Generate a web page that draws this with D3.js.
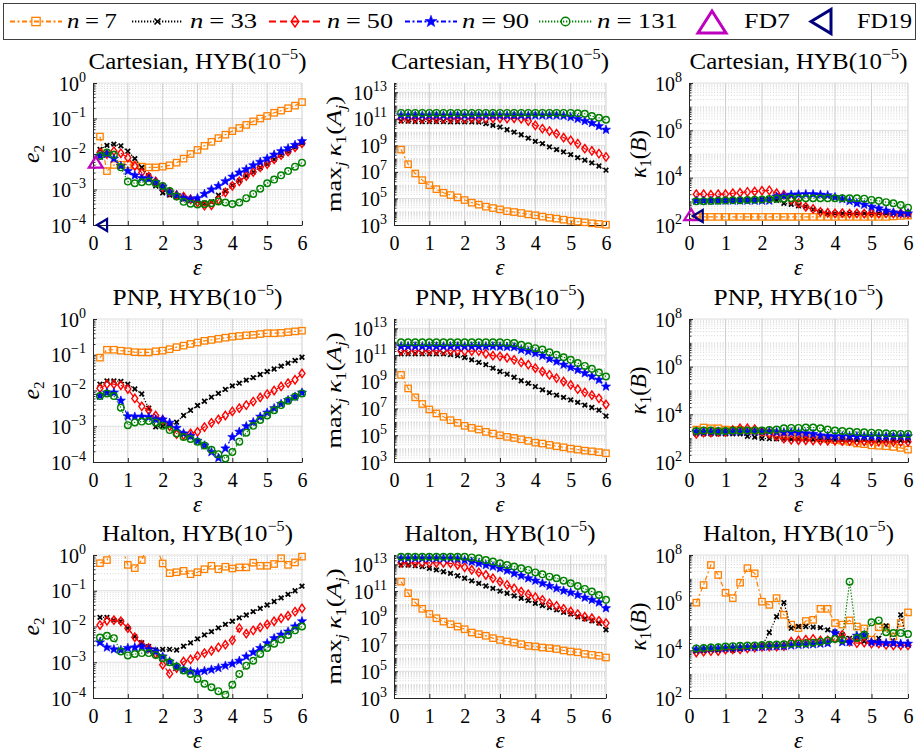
<!DOCTYPE html>
<html><head><meta charset="utf-8">
<script src="https://cdn.jsdelivr.net/npm/d3@7"></script>
<style>
body{margin:0;background:#fff}
text{font-family:"Liberation Serif","Times New Roman",serif;fill:#000}
</style>
</head><body>
<svg id="c" width="919" height="752"></svg>
<script>
// ---------------- data ----------------
const eps = [0.2,0.4,0.6,0.8,1.0,1.2,1.4,1.6,1.8,2.0,2.2,2.4,2.6,2.8,3.0,3.2,3.4,3.6,3.8,4.0,4.2,4.4,4.6,4.8,5.0,5.2,5.4,5.6,5.8,6.0];
const nValues = [7,33,50,90,131];
const xTicks = [0,1,2,3,4,5,6];
const yTicksE2 = [1e-4,1e-3,1e-2,1e-1,1];
const yTicksKA = [1e3,1e5,1e7,1e9,1e11,1e13];
const yTicksKB = [1e2,1e4,1e6,1e8];
const rowNames = ["Cartesian","PNP","Halton"];

// Cartesian
const cartE2_n7  = [3.1e-2,3.3e-3,4.9e-3,5e-3,5e-3,4.8e-3,4.4e-3,4.2e-3,4.2e-3,4.4e-3,4.8e-3,5.7e-3,7.4e-3,1e-2,1.3e-2,1.7e-2,2.2e-2,2.8e-2,3.5e-2,4.4e-2,5.4e-2,6.6e-2,8.3e-2,0.1,0.118,0.145,0.167,0.195,0.23,0.29];
const cartE2_n33 = [1.35e-2,1.75e-2,1.9e-2,1.7e-2,1.2e-2,7.4e-3,4.2e-3,2.4e-3,1.26e-3,8e-4,6.9e-4,6.3e-4,5.7e-4,5.3e-4,4.6e-4,4.1e-4,4.5e-4,6.9e-4,9e-4,1.3e-3,1.75e-3,2.4e-3,3.1e-3,4.1e-3,5.2e-3,7e-3,9.2e-3,1.15e-2,1.55e-2,2e-2];
const cartE2_n50 = [1.1e-2,1e-2,1.2e-2,1.05e-2,7.9e-3,4.6e-3,3e-3,2.3e-3,1.7e-3,1.15e-3,8.5e-4,6.9e-4,6.3e-4,5.3e-4,4.3e-4,3.5e-4,3.6e-4,5.1e-4,8.3e-4,1.26e-3,1.7e-3,2.4e-3,3.1e-3,4.2e-3,5.2e-3,7.1e-3,9.3e-3,1.16e-2,1.55e-2,2e-2];
const cartE2_n90 = [8.8e-3,1e-2,7.4e-3,4.6e-3,3.3e-3,2.5e-3,2.1e-3,2e-3,1.6e-3,1.2e-3,8.3e-4,6.9e-4,5.7e-4,5.3e-4,5.7e-4,7.5e-4,1e-3,1.26e-3,1.7e-3,2.3e-3,3e-3,3.7e-3,4.8e-3,6e-3,7.4e-3,9.6e-3,1.2e-2,1.45e-2,1.8e-2,2.3e-2];
const cartE2_n131= [8.8e-3,1.1e-2,9.5e-3,4.2e-3,1.67e-3,1.5e-3,1.6e-3,1.67e-3,1.5e-3,1.26e-3,9e-4,6.3e-4,4.5e-4,4e-4,3.8e-4,3.9e-4,4.1e-4,4.6e-4,4.3e-4,3.9e-4,4.3e-4,5.7e-4,7.5e-4,1.05e-3,1.5e-3,1.9e-3,2.5e-3,3.3e-3,4.4e-3,5.7e-3];

const cartKA_n7  = [4.8e8,3.8e7,7.6e6,2.4e6,1e6,5e5,2.7e5,1.8e5,1.2e5,7.6e4,4.8e4,3.4e4,2.4e4,1.9e4,1.5e4,1.1e4,9.5e3,8e3,6.3e3,5.4e3,4.3e3,3.5e3,3e3,2.5e3,2.1e3,1.8e3,1.6e3,1.35e3,1.2e3,1.05e3];
const cartKA_n33 = [6.8e10,6.6e10,6.3e10,6.3e10,6.3e10,6.3e10,6.3e10,6e10,6e10,5.9e10,5.8e10,5.6e10,4.3e10,3.2e10,2.4e10,1.5e10,1e10,6.3e9,3.5e9,2e9,1.35e9,7.6e8,4.8e8,3.2e8,2e8,1.2e8,7.6e7,4.8e7,2.8e7,1.35e7];
const cartKA_n50 = [1.05e11,1e11,1.05e11,1e11,1.05e11,1e11,1.05e11,1e11,1.05e11,1e11,1.05e11,1e11,1.05e11,1.1e11,1.1e11,1.05e11,1.1e11,1e11,6.8e10,3.2e10,1.8e10,1.2e10,7.6e9,3.8e9,2.4e9,1.35e9,5.6e8,3.8e8,2.4e8,1.35e8];
const cartKA_n90 = [1.8e11,1.8e11,1.8e11,1.8e11,1.8e11,1.8e11,1.8e11,1.8e11,1.8e11,1.8e11,1.8e11,1.8e11,1.8e11,1.8e11,1.8e11,1.8e11,1.8e11,1.8e11,1.8e11,1.8e11,1.8e11,1.8e11,1.8e11,1.7e11,1.35e11,1e11,6.8e10,4.8e10,2.8e10,1.5e10];
const cartKA_n131= [2.8e11,2.8e11,2.8e11,2.8e11,2.8e11,2.8e11,2.8e11,2.8e11,2.8e11,2.8e11,2.8e11,2.8e11,2.8e11,2.8e11,2.8e11,2.8e11,2.8e11,2.8e11,2.8e11,2.8e11,2.8e11,2.8e11,2.8e11,2.8e11,2.8e11,2.6e11,2.4e11,1.6e11,1.2e11,8.5e10];

const cartKB_n7  = [2.2e2,2.2e2,2.2e2,2.2e2,2.2e2,2.2e2,2.2e2,2.2e2,2.2e2,2.2e2,2.2e2,2.2e2,2.2e2,2.2e2,2.2e2,2.2e2,2.2e2,2.2e2,2.2e2,2.2e2,2.2e2,2.2e2,2.2e2,2.2e2,2.2e2,2.2e2,2.2e2,2.3e2,2.4e2,2.5e2];
const cartKB_n33 = [1.05e3,1.05e3,1.08e3,1.1e3,1.1e3,1.12e3,1.12e3,1.15e3,1.15e3,1.18e3,1.2e3,1.1e3,8.3e2,7.5e2,6.5e2,5.9e2,4.6e2,3.7e2,3.1e2,3.1e2,3.1e2,3.1e2,3.1e2,3.1e2,3.1e2,3.1e2,3.1e2,3.1e2,3.1e2,3.1e2];
const cartKB_n50 = [2e3,2e3,1.9e3,2e3,2e3,2.2e3,2.3e3,2.5e3,2.6e3,2.8e3,2.9e3,2.2e3,1.9e3,1.15e3,8.3e2,5.9e2,4.8e2,3.6e2,3.3e2,3.1e2,3.2e2,3e2,3.1e2,3e2,3.2e2,3e2,3.1e2,3e2,3.1e2,3e2];
const cartKB_n90 = [1.07e3,1.07e3,1.07e3,1.07e3,1.07e3,1.07e3,1.07e3,1.07e3,1.07e3,1.07e3,1.07e3,1.6e3,1.7e3,1.9e3,1.95e3,2e3,2e3,1.9e3,1.8e3,1.5e3,1.25e3,1.03e3,8.3e2,7.2e2,5.9e2,5e2,4e2,3.4e2,3.1e2,3.1e2];
const cartKB_n131= [1e3,1.02e3,1.04e3,1.06e3,1.08e3,1.1e3,1.12e3,1.14e3,1.16e3,1.2e3,1.25e3,1.28e3,1.3e3,1.35e3,1.35e3,1.35e3,1.35e3,1.35e3,1.35e3,1.35e3,1.35e3,1.35e3,1.35e3,1.3e3,1.15e3,1.05e3,9.2e2,8.3e2,7e2,5.4e2];

// PNP
const pnpE2_n7  = [8.3e-2,0.138,0.138,0.13,0.125,0.118,0.116,0.116,0.125,0.13,0.143,0.163,0.18,0.2,0.22,0.245,0.26,0.28,0.3,0.32,0.335,0.35,0.36,0.38,0.4,0.4,0.41,0.43,0.45,0.47];
const pnpE2_n33 = [1.5e-2,1.85e-2,1.85e-2,1.8e-2,1.5e-2,1.1e-2,8e-3,3.2e-3,9.6e-4,1e-3,1.1e-3,1.3e-3,2e-3,2.8e-3,3.8e-3,5e-3,6.5e-3,8.3e-3,1.07e-2,1.35e-2,1.6e-2,1.95e-2,2.3e-2,2.8e-2,3.4e-2,4e-2,4.8e-2,5.8e-2,6.9e-2,8.5e-2];
const pnpE2_n50 = [1.15e-2,1.5e-2,1.5e-2,1.4e-2,1.1e-2,6e-3,3.6e-3,2.8e-3,2e-3,1.5e-3,1e-3,6e-4,5.7e-4,6.3e-4,7e-4,9.5e-4,1.25e-3,1.55e-3,2e-3,2.6e-3,3.2e-3,3.9e-3,4.9e-3,6.4e-3,7.9e-3,1e-2,1.3e-2,1.6e-2,2e-2,3e-2];
const pnpE2_n90 = [7.1e-3,8.7e-3,8.7e-3,5.2e-3,1.9e-3,1.85e-3,1.85e-3,1.8e-3,1.55e-3,1.55e-3,1.25e-3,9e-4,6.3e-4,5.3e-4,3.9e-4,2.9e-4,1.9e-4,1.3e-4,2.4e-4,5e-4,7e-4,1e-3,1.3e-3,1.85e-3,2.4e-3,3.2e-3,4.2e-3,5.4e-3,6.7e-3,8.7e-3];
const pnpE2_n131= [7e-3,8.3e-3,7e-3,3.3e-3,1.07e-3,1.28e-3,1.35e-3,1.4e-3,1.28e-3,1.03e-3,7.8e-4,6.3e-4,5e-4,4.4e-4,3.7e-4,2.9e-4,2.2e-4,1.65e-4,1.25e-4,1.9e-4,3.7e-4,6.6e-4,1.03e-3,1.5e-3,2e-3,2.8e-3,3.9e-3,5.2e-3,6.7e-3,8.3e-3];

const pnpKA_n7  = [3.3e9,3.2e8,6.9e7,2.2e7,8.5e6,4.3e6,2.4e6,1.35e6,8.5e5,5.1e5,3.6e5,2.7e5,1.8e5,1.35e5,1e5,7.6e4,6.3e4,5e4,3.8e4,2.8e4,2.4e4,1.9e4,1.5e4,1.26e4,1e4,8.5e3,7.1e3,6.3e3,5.4e3,4.5e3];
const pnpKA_n33 = [1.26e11,1.26e11,1.26e11,1.26e11,1.26e11,1.26e11,1.26e11,1.1e11,9e10,6.6e10,4.4e10,2.8e10,1.9e10,1.05e10,5.9e9,3.7e9,2.2e9,1.2e9,7.8e8,4.4e8,2.5e8,1.55e8,1e8,6.9e7,4.4e7,2.9e7,1.8e7,1.2e7,7.6e6,2.7e6];
const pnpKA_n50 = [2.1e11,2.1e11,2.1e11,2.1e11,2.1e11,2.1e11,2.1e11,2.1e11,2.1e11,2e11,2e11,2e11,1.26e11,9e10,8e10,6.3e10,4.4e10,2.8e10,1.9e10,1.05e10,5.9e9,3.3e9,1.9e9,1.05e9,5.8e8,2.8e8,1.6e8,1e8,5.8e7,2e7];
const pnpKA_n90 = [4.5e11,4.5e11,4.5e11,4.5e11,4.5e11,4.5e11,4.5e11,4.5e11,4.5e11,4.5e11,4.5e11,4.5e11,4.5e11,4.5e11,4.3e11,4.1e11,3.9e11,2.5e11,1.9e11,1.4e11,8.9e10,5.2e10,3.3e10,1.9e10,1.2e10,7.8e9,4.4e9,2.5e9,1.4e9,4.4e8];
const pnpKA_n131= [9e11,9e11,9e11,9e11,9e11,9e11,9e11,9e11,9e11,9e11,9e11,9e11,9e11,9e11,9e11,8.5e11,8e11,5.9e11,4.5e11,3.3e11,2.6e11,1.6e11,1.05e11,6.9e10,4.4e10,2.5e10,1.55e10,9.3e9,4.9e9,2.5e9];

const pnpKB_n7  = [2.3e3,2.8e3,2.6e3,2.6e3,2.3e3,2.2e3,2.2e3,2e3,2e3,1.9e3,1.7e3,1.4e3,1.35e3,1.26e3,1.2e3,1.15e3,1.07e3,9.8e2,9.1e2,8.3e2,7.8e2,7e2,6e2,5.6e2,5e2,4.8e2,4.6e2,4.3e2,3.9e2,3.3e2];
const pnpKB_n33 = [1.5e3,1.5e3,1.5e3,1.5e3,1.5e3,1.5e3,1.5e3,1.2e3,1.1e3,9.8e2,9.5e2,9.3e2,9.2e2,9e2,9e2,8.8e2,8.7e2,8.6e2,8.5e2,8.4e2,8.3e2,8.3e2,8.2e2,8.2e2,8.1e2,8e2,8e2,8e2,7.9e2,7.9e2];
const pnpKB_n50 = [1.5e3,1.7e3,1.7e3,1.8e3,1.8e3,2.2e3,2.6e3,2.6e3,2.4e3,1.8e3,1.5e3,1.2e3,9.5e2,8.5e2,8.2e2,8.2e2,8e2,8e2,7.8e2,7.8e2,7.5e2,7.5e2,7.3e2,7.3e2,7.2e2,7.2e2,7e2,7e2,7e2,7e2];
const pnpKB_n90 = [1.9e3,1.9e3,1.9e3,1.9e3,1.9e3,1.9e3,1.9e3,1.9e3,1.9e3,1.9e3,1.9e3,1.8e3,1.75e3,1.75e3,1.7e3,1.6e3,1.5e3,1.3e3,1.25e3,1.2e3,1.2e3,1.2e3,1.2e3,1.2e3,1.2e3,1.2e3,1.2e3,1.2e3,1.2e3,1.2e3];
const pnpKB_n131= [2e3,2.1e3,2.1e3,2e3,2e3,2.1e3,2.1e3,2.1e3,2.1e3,2.1e3,2.2e3,2.3e3,2.6e3,2.7e3,2.7e3,2.8e3,2.8e3,2.6e3,2.3e3,2.1e3,2e3,1.9e3,1.8e3,1.75e3,1.7e3,1.65e3,1.6e3,1.55e3,1.5e3,1.5e3];

// Halton
const halE2_n7  = [0.59,0.72,1.8,2.0,0.53,0.43,0.72,2.2,1.9,0.58,0.31,0.33,0.36,0.29,0.33,0.4,0.5,0.4,0.47,0.42,0.45,0.45,0.61,0.5,0.5,0.56,0.81,0.53,0.62,0.9];
const halE2_n33 = [1.8e-2,1.8e-2,1.5e-2,1.4e-2,9e-3,5.2e-3,3.5e-3,2.75e-3,2.2e-3,2.3e-3,2.3e-3,2.2e-3,2.8e-3,3.5e-3,4.5e-3,5.8e-3,7.2e-3,9.1e-3,1.15e-2,1.4e-2,1.75e-2,2.1e-2,2.6e-2,3.2e-2,4e-2,5e-2,6.3e-2,7.9e-2,0.1,0.135];
const halE2_n50 = [1.1e-2,1.45e-2,1.5e-2,1.4e-2,9e-3,5e-3,3.1e-3,2.5e-3,1.7e-3,8.5e-4,4.8e-4,6.9e-4,1.05e-3,1.2e-3,1.5e-3,1.8e-3,2.1e-3,2.6e-3,3.1e-3,4.1e-3,9e-3,6.3e-3,7.8e-3,9.5e-3,1.15e-2,1.4e-2,1.7e-2,2e-2,2.6e-2,3.2e-2];
const halE2_n90 = [3.6e-3,2.6e-3,2.3e-3,2.2e-3,2.5e-3,2.6e-3,2.75e-3,2.3e-3,2e-3,1.45e-3,1.05e-3,7.6e-4,6.2e-4,5.6e-4,5.3e-4,5.7e-4,6.2e-4,6.9e-4,8e-4,9.1e-4,1.1e-3,1.45e-3,1.9e-3,2.5e-3,3.4e-3,4.7e-3,5.9e-3,7.2e-3,1e-2,1.4e-2];
const halE2_n131= [4.9e-3,5.5e-3,4.7e-3,2e-3,1.55e-3,1.7e-3,1.8e-3,1.8e-3,1.6e-3,1.3e-3,1e-3,7.6e-4,5.9e-4,4.7e-4,3.4e-4,2.5e-4,2e-4,1.55e-4,1.23e-4,2.35e-4,4.7e-4,8e-4,1.1e-3,1.7e-3,2.5e-3,3.3e-3,4.3e-3,5.8e-3,7.8e-3,1e-2];

const halKA_n7  = [5.1e11,6.9e10,1.4e10,4.7e9,1.95e9,9.3e8,5.2e8,3.3e8,2.2e8,1.4e8,7.9e7,6e7,4.5e7,3e7,2.2e7,1.7e7,1.4e7,1.07e7,7.9e6,7.2e6,6e6,5.4e6,4.6e6,3.6e6,3e6,2.6e6,2e6,1.7e6,1.45e6,1.07e6];
const halKA_n33 = [8.9e12,8.9e12,7.9e12,6.8e12,5e12,3.8e12,2.8e12,2.1e12,1.4e12,9.1e11,5.8e11,3.8e11,2.4e11,1.6e11,1e11,6.9e10,4.4e10,2.9e10,1.95e10,1.2e10,8.3e9,5.9e9,3.9e9,2.6e9,1.9e9,1.2e9,8.3e8,5.9e8,4e8,1.26e8];
const halKA_n50 = [1.3e13,1.3e13,1.3e13,1.3e13,1.3e13,1.3e13,1.3e13,1.2e13,8.9e12,6e12,3.8e12,2.5e12,1.6e12,9.1e11,5.1e11,2.9e11,1.6e11,9.1e10,5.8e10,3.5e10,2.2e10,1.2e10,7.8e9,4.7e9,3e9,1.9e9,1.2e9,9.3e8,5.9e8,4e8];
const halKA_n90 = [2.8e13,2.8e13,2.8e13,2.8e13,2.8e13,2.8e13,2.8e13,2.8e13,2.6e13,2.1e13,1.6e13,1.2e13,8.9e12,6.8e12,5e12,3.4e12,2.1e12,1.4e12,9.1e11,6e11,3.8e11,2.4e11,1.6e11,1.07e11,7.8e10,5.1e10,3.2e10,2.2e10,1.4e10,5.2e9];
const halKA_n131= [3.7e13,3.7e13,3.7e13,3.7e13,3.7e13,3.7e13,3.7e13,3.7e13,3.7e13,3.7e13,3.3e13,2.8e13,2.1e13,1.6e13,1.2e13,8.9e12,6.8e12,5e12,3.8e12,2.5e12,1.8e12,1.2e12,9.1e11,6e11,3.8e11,2.4e11,1.45e11,9.1e10,5.1e10,2.2e10];

const halKB_n7  = [1e6,5.5e6,3.8e7,1.45e7,2.6e6,1.55e6,6.9e6,2.8e7,1.7e7,1.1e6,8.1e5,1.55e6,3.1e5,1.2e5,8.5e4,1.7e5,1.9e5,5.5e5,5.5e5,1.4e5,1.2e5,1.8e5,1e5,8.3e4,2.8e4,9.3e4,9e4,3.8e4,1.4e5,3.9e5];
const halKB_n33 = [9.1e3,9.5e3,1e4,1e4,1.07e4,1e4,1.1e4,1.2e4,1.3e4,1.5e4,5.6e4,2.6e5,1e6,8.5e4,1e5,1e5,9.5e4,9e4,7.2e4,6e4,4.5e4,3.2e4,2.8e4,2.4e4,2.1e4,3.2e4,1.07e5,2e4,3.1e5,1.7e4];
const halKB_n50 = [8.1e3,8.8e3,9.3e3,9.3e3,1.07e4,1.1e4,1.1e4,1.2e4,1.3e4,1.4e4,1.45e4,1.45e4,1.5e4,2.3e4,2.6e4,2.8e4,3e4,2.6e4,2.6e4,3.2e4,4.5e4,2.3e4,2e4,2.1e4,1.9e4,1.9e4,1.7e4,1.6e4,1.6e4,1.6e4];
const halKB_n90 = [1.1e4,1.15e4,1.2e4,1.2e4,1.25e4,1.3e4,1.3e4,1.35e4,1.35e4,1.4e4,1.45e4,1.5e4,1.5e4,1.6e4,1.7e4,1.75e4,1.8e4,1.9e4,2e4,5.3e4,2.2e4,2.2e4,4.1e4,4.4e4,2.2e4,2.1e4,2e4,2e4,1.9e4,1.9e4];
const halKB_n131= [1.2e4,1.25e4,1.3e4,1.35e4,1.45e4,1.5e4,1.55e4,1.6e4,1.6e4,1.66e4,1.7e4,1.75e4,1.8e4,1.9e4,1.95e4,2e4,2.1e4,2.3e4,2.6e4,3e4,2.8e4,7.6e6,3.3e4,4.5e4,1.5e5,1.8e5,5.8e4,5.3e4,5.3e4,4.8e4];

// Finite-difference reference markers (panels: Cartesian e2, Cartesian kappa(B))
const fd7Eps  = [0.08, 0.06];
const fd7Vals = [5.7e-3, 2.6e2];
const fd19Eps = [0.26, 0.24];
const fd19Vals= [1e-4, 2.4e2];

// ---------------- layout / style ----------------
const panelData = [
  [[cartE2_n7,cartE2_n33,cartE2_n50,cartE2_n90,cartE2_n131],[cartKA_n7,cartKA_n33,cartKA_n50,cartKA_n90,cartKA_n131],[cartKB_n7,cartKB_n33,cartKB_n50,cartKB_n90,cartKB_n131]],
  [[pnpE2_n7,pnpE2_n33,pnpE2_n50,pnpE2_n90,pnpE2_n131],[pnpKA_n7,pnpKA_n33,pnpKA_n50,pnpKA_n90,pnpKA_n131],[pnpKB_n7,pnpKB_n33,pnpKB_n50,pnpKB_n90,pnpKB_n131]],
  [[halE2_n7,halE2_n33,halE2_n50,halE2_n90,halE2_n131],[halKA_n7,halKA_n33,halKA_n50,halKA_n90,halKA_n131],[halKB_n7,halKB_n33,halKB_n50,halKB_n90,halKB_n131]]
];
const colX = [[93,302],[394,606],[689,908]];
const rowY = [[83,225],[319,462],[555,698]];
const colDomain = [[1e-4,1],[1e3,5e13],[1e2,1e8]];
const colTicks = [yTicksE2,yTicksKA,yTicksKB];
const titleW = [218,170,191];
const styles = [
  {color:"#FF8000", dash:"5,2.5,2,2.5", marker:"square"},
  {color:"#000000", dash:"1.3,1.7",     marker:"x"},
  {color:"#FF0000", dash:"7,4",         marker:"diamond"},
  {color:"#0000FF", dash:"5,2.5,2,2.5", marker:"star"},
  {color:"#008000", dash:"1.3,1.7",     marker:"circle"}
];
const FD7C = "#BF00BF", FD19C = "#00007F";

const svg = d3.select("#c");
svg.append("rect").attr("width",919).attr("height",752).attr("fill","#fff");

function starPath(R){
  const r = R*0.42; let p = [];
  for(let i=0;i<10;i++){const a=-Math.PI/2+i*Math.PI/5; const rr=i%2?r:R; p.push([rr*Math.cos(a), rr*Math.sin(a)]);}
  return "M"+p.map(q=>q[0].toFixed(2)+","+q[1].toFixed(2)).join("L")+"Z";
}
function drawMarker(g, type, cx, cy, color, s, sw){
  s = s||1;
  const gg = g.append("g").attr("transform",`translate(${cx},${cy})`);
  if(type==="square") gg.append("rect").attr("x",-3.2*s).attr("y",-3.2*s).attr("width",6.4*s).attr("height",6.4*s).attr("fill","none").attr("stroke",color).attr("stroke-width",1.3);
  else if(type==="x"){ const h=2.3*s; gg.append("path").attr("d",`M${-h},${-h}L${h},${h}M${-h},${h}L${h},${-h}`).attr("stroke",color).attr("stroke-width",1.7); }
  else if(type==="diamond") gg.append("path").attr("d",`M0,${-4.2*s}L${3*s},0L0,${4.2*s}L${-3*s},0Z`).attr("fill","none").attr("stroke",color).attr("stroke-width",1.4);
  else if(type==="star") gg.append("path").attr("d",starPath(4.8*s)).attr("fill",color).attr("stroke",color).attr("stroke-width",0.6);
  else if(type==="circle") gg.append("circle").attr("r",3.3*s).attr("fill","none").attr("stroke",color).attr("stroke-width",1.4);
  else if(type==="tri") gg.append("path").attr("d",`M0,${-6*s}L${7*s},${5*s}L${-7*s},${5*s}Z`).attr("fill","none").attr("stroke",color).attr("stroke-width",sw||2.2);
  else if(type==="left") gg.append("path").attr("d",`M${-5*s},0L${5*s},${-6*s}L${5*s},${6*s}Z`).attr("fill","none").attr("stroke",color).attr("stroke-width",sw||2.2);
}
function fitX(sel, target, ax){
  const bb = sel.node().getBBox();
  const sx = target/bb.width;
  sel.attr("transform",`translate(${ax},0) scale(${sx},1) translate(${-ax},0)`);
}

svg.append("defs");
for(let r=0;r<3;r++){
  for(let c=0;c<3;c++){
    const [x0,x1]=colX[c], [y0,y1]=rowY[r];
    const x = d3.scaleLinear().domain([0,6]).range([x0,x1]);
    const y = d3.scaleLog().domain(colDomain[c]).range([y1,y0]);
    const g = svg.append("g");
    const [lo,hi]=colDomain[c];
    const majors=[], minors=[];
    for(let k=Math.floor(Math.log10(lo));k<=Math.ceil(Math.log10(hi));k++){
      for(let m=1;m<=9;m++){
        const v=m*Math.pow(10,k);
        if(v<lo*0.9999||v>hi*1.0001) continue;
        const isMaj = colTicks[c].some(t=>Math.abs(Math.log10(t)-Math.log10(v))<1e-6);
        (isMaj?majors:minors).push(v);
      }
    }
    // grid
    g.selectAll(null).data(minors).enter().append("line")
      .attr("x1",x0).attr("x2",x1).attr("y1",d=>y(d)).attr("y2",d=>y(d))
      .attr("stroke","#bdbdbd").attr("stroke-width",0.6).attr("stroke-dasharray","1,1.8");
    g.selectAll(null).data(majors.filter(v=>v>lo*1.001)).enter().append("line")
      .attr("x1",x0).attr("x2",x1).attr("y1",d=>y(d)).attr("y2",d=>y(d))
      .attr("stroke","#dedede").attr("stroke-width",1);
    g.selectAll(null).data(xTicks.filter(v=>v>0)).enter().append("line")
      .attr("x1",d=>x(d)).attr("x2",d=>x(d)).attr("y1",y0).attr("y2",y1)
      .attr("stroke","#cfcfcf").attr("stroke-width",1);

    // axes
    const xa = g.append("g").attr("transform",`translate(0,${y1})`)
      .call(d3.axisBottom(x).tickValues(xTicks).tickSize(-4).tickSizeOuter(0).tickPadding(11).tickFormat(d3.format("d")));
    xa.attr("font-family",null).attr("font-size",20);
    const ya = g.append("g").attr("transform",`translate(${x0},0)`)
      .call(d3.axisLeft(y).tickValues(colTicks[c]).tickSize(-4).tickSizeOuter(0).tickFormat(()=>""));
    ya.attr("font-family",null);
    const ym = g.append("g").attr("transform",`translate(${x0},0)`)
      .call(d3.axisLeft(y).tickValues(minors).tickSize(-2.5).tickSizeOuter(0).tickFormat(()=>""));
    ym.select(".domain").remove();
    [xa,ya,ym].forEach(a=>{a.selectAll(".domain").attr("stroke","#262626");a.selectAll(".tick line").attr("stroke","#262626");});
    ya.selectAll(".tick").each(function(d){
      const t = d3.select(this).append("text").attr("x",-7).attr("y",7).attr("text-anchor","end").attr("font-size",20).attr("fill","#000");
      const e = Math.round(Math.log10(d));
      t.append("tspan").text("10");
      t.append("tspan").attr("font-size",14).attr("dy",-9).text(e<0?"\u2212"+(-e):String(e));
    });

    // title
    const tt = g.append("text").attr("x",(x0+x1)/2).attr("y",y0-14).attr("text-anchor","middle").attr("font-size",23);
    tt.append("tspan").text(rowNames[r]+", HYB(10");
    tt.append("tspan").attr("font-size",15).attr("dy",-10).text("\u22125");
    tt.append("tspan").attr("dy",10).text(")");
    fitX(tt, titleW[r], (x0+x1)/2);

    // x label
    g.append("text").attr("x",(x0+x1)/2).attr("y",y1+50).attr("text-anchor","middle").attr("font-size",23).attr("font-style","italic").text("\u03B5");

    // y label
    const lbx = [39,341,646][c];
    const lg = g.append("g").attr("transform",`translate(${lbx},${(y0+y1)/2}) rotate(-90)`);
    const yl = lg.append("text").attr("x",0).attr("y",0).attr("text-anchor","middle").attr("font-size",22);
    if(c===0){ yl.append("tspan").attr("font-style","italic").attr("font-size",24).text("e"); yl.append("tspan").attr("font-size",15).attr("dy",5).text("2"); }
    else if(c===1){
      yl.append("tspan").text("max");
      yl.append("tspan").attr("font-size",15).attr("dy",5).attr("font-style","italic").text("j");
      yl.append("tspan").attr("dy",-5).attr("dx",4).attr("font-style","italic").text("\u03BA");
      yl.append("tspan").attr("font-size",15).attr("dy",5).text("1");
      yl.append("tspan").attr("dy",-5).text("(");
      yl.append("tspan").attr("font-style","italic").text("A");
      yl.append("tspan").attr("font-size",15).attr("dy",5).attr("font-style","italic").text("j");
      yl.append("tspan").attr("dy",-5).text(")");
      fitX(yl, 116, 0);
    } else {
      yl.attr("font-size",24);
      yl.append("tspan").attr("font-style","italic").text("\u03BA");
      yl.append("tspan").attr("font-size",16).attr("dy",5).text("1");
      yl.append("tspan").attr("dy",-5).text("(");
      yl.append("tspan").attr("font-style","italic").text("B");
      yl.append("tspan").text(")");
      fitX(yl, 48, 0);
    }

    // clip + series
    const cid = `clip${r}${c}`;
    svg.select("defs").append("clipPath").attr("id",cid).append("rect").attr("x",x0).attr("y",y0).attr("width",x1-x0).attr("height",y1-y0);
    const line = d3.line().x(d=>x(d[0])).y(d=>y(d[1]));
    panelData[r][c].forEach((vals,si)=>{
      const st = styles[si];
      const pts = eps.map((e,i)=>[e,vals[i]]);
      g.append("path").attr("d",line(pts)).attr("fill","none").attr("stroke",st.color).attr("stroke-width",1.2)
        .attr("stroke-dasharray",st.dash).attr("clip-path",`url(#${cid})`);
      pts.filter(p=>p[1]>=lo*0.999&&p[1]<=hi*1.001).forEach(p=>drawMarker(g,st.marker,x(p[0]),y(p[1]),st.color));
    });
    if(r===0 && c!==1){
      const k = c===0?0:1;
      drawMarker(g,"tri",x(fd7Eps[k]),y(fd7Vals[k]),FD7C);
      drawMarker(g,"left",x(fd19Eps[k]),y(fd19Vals[k]),FD19C);
    }
  }
}

// ---------------- legend ----------------
const L = svg.append("g");
L.append("rect").attr("x",3.5).attr("y",3.5).attr("width",912).attr("height",36).attr("fill","#fff").attr("stroke","#404040").attr("stroke-width",1);
const ly = 21.5;
const legPos = [[10,62,67,50],[132,183,190,67],[269,321,327,66],[405,457,462,67],[539,592,597,81]];
legPos.forEach((p,i)=>{
  const st = styles[i];
  L.append("line").attr("x1",p[0]).attr("x2",p[1]).attr("y1",ly).attr("y2",ly).attr("stroke",st.color).attr("stroke-width",2).attr("stroke-dasharray",st.dash);
  drawMarker(L,st.marker,(p[0]+p[1])/2,ly,st.color,1.3);
  const t = L.append("text").attr("x",p[2]).attr("y",ly+7).attr("font-size",22);
  t.append("tspan").attr("font-style","italic").text("n");
  t.append("tspan").attr("dx",5).text("=");
  t.append("tspan").attr("dx",5).text(String(nValues[i]));
  fitX(t,p[3],p[2]);
});
drawMarker(L,"tri",712,ly+1.5,FD7C,2.0,3);
const f7 = L.append("text").attr("x",744).attr("y",ly+7).attr("font-size",22).text("FD7"); fitX(f7,46,744);
drawMarker(L,"left",821,ly,FD19C,2.0,3);
const f19 = L.append("text").attr("x",857).attr("y",ly+7).attr("font-size",22).text("FD19"); fitX(f19,55,857);
</script>
</body></html>
